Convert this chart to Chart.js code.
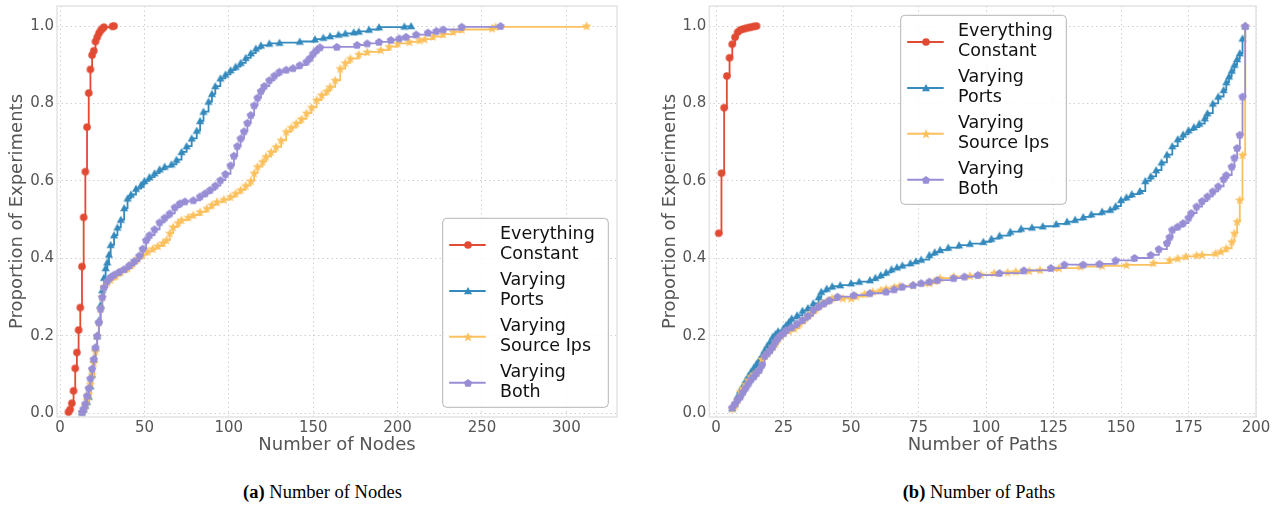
<!DOCTYPE html>
<html><head><meta charset="utf-8">
<script src="https://cdn.jsdelivr.net/npm/chart.js@4.4.1/dist/chart.umd.min.js"></script>
<style>
html,body{margin:0;padding:0;background:#fff;width:1278px;height:506px;overflow:hidden;position:relative;}
canvas{position:absolute;top:0;}
#c1{left:0}
#c2{left:640px}
.cap{position:absolute;top:480px;font-family:"Liberation Serif","Times New Roman",serif;font-size:18.5px;color:#000;white-space:nowrap;transform:translateX(-50%);line-height:24px}
</style></head><body>
<canvas id="c1" width="640" height="460"></canvas>
<canvas id="c2" width="638" height="460"></canvas>
<div class="cap" style="left:322.5px"><b>(a)</b> Number of Nodes</div>
<div class="cap" style="left:979px"><b>(b)</b> Number of Paths</div>
<script>
// ---------------- DATA ----------------
const seriesNames = ['Everything Constant', 'Varying Ports', 'Varying Source Ips', 'Varying Both'];
const legendLines = [['Everything','Constant'],['Varying','Ports'],['Varying','Source Ips'],['Varying','Both']];
const yTicks = [0, 0.2, 0.4, 0.6, 0.8, 1.0];
const yTickLabels = ['0.0','0.2','0.4','0.6','0.8','1.0'];
const nodesTicks = [0, 50, 100, 150, 200, 250, 300];
const nodesTickLabels = ['0','50','100','150','200','250','300'];
const pathsTicks = [0, 25, 50, 75, 100, 125, 150, 175, 200];
const pathsTickLabels = ['0','25','50','75','100','125','150','175','200'];

// (a) Number of Nodes
const nodesConstX = [5,6,7,8,9,10,11,12,13,14,15,16,17,18,19,20,21,22,23,24,25,26,31,32];
const nodesConstY = [0.003,0.01,0.026,0.058,0.116,0.157,0.215,0.273,0.379,0.506,0.624,0.739,0.827,0.888,0.925,0.936,0.96,0.971,0.981,0.988,0.993,0.997,0.999,1.0];

const nodesPortsX = [13,14,15,16,17,18,19,20,21,22,23,24,25,26,27,28,29,30,32,34,36,38,40,42,45,48,50,53,56,59,62,66,69,72,75,78,81,83,85,88,90,92,95,98,101,104,107,110,113,116,119,124,130,142,151,156,160,165,169,174,177,183,189,204,208];
const nodesPortsY = [0.003,0.01,0.02,0.03,0.043,0.07,0.1,0.14,0.17,0.2,0.24,0.28,0.318,0.35,0.375,0.39,0.41,0.435,0.46,0.48,0.5,0.53,0.555,0.565,0.58,0.59,0.6,0.61,0.62,0.63,0.637,0.643,0.655,0.675,0.69,0.71,0.73,0.755,0.779,0.805,0.825,0.845,0.865,0.875,0.886,0.895,0.905,0.918,0.93,0.942,0.95,0.955,0.957,0.96,0.966,0.97,0.974,0.978,0.981,0.984,0.986,0.991,0.997,0.999,1.0];

const nodesSrcX = [13,14,15,16,17,18,19,20,21,22,23,24,25,26,28,30,33,36,40,43,46,49,52,55,58,61,63,65,67,70,72,76,79,83,87,90,93,97,101,104,107,110,113,115,117,120,122,125,128,131,134,137,140,143,146,149,152,155,158,160,163,166,169,172,177,182,190,195,200,207,213,216,221,227,233,238,256,258,312];
const nodesSrcY = [0.003,0.01,0.02,0.035,0.05,0.075,0.1,0.13,0.16,0.2,0.235,0.27,0.3,0.327,0.338,0.345,0.355,0.365,0.375,0.387,0.4,0.41,0.418,0.425,0.432,0.44,0.447,0.465,0.481,0.492,0.499,0.506,0.512,0.52,0.529,0.538,0.546,0.552,0.559,0.568,0.577,0.588,0.6,0.62,0.637,0.65,0.663,0.675,0.688,0.705,0.727,0.738,0.749,0.76,0.775,0.79,0.809,0.822,0.832,0.843,0.86,0.89,0.905,0.916,0.927,0.933,0.938,0.947,0.955,0.959,0.963,0.966,0.973,0.979,0.985,0.991,0.994,0.998,1.0];

const nodesBothX = [13,14,15,16,17,18,19,20,21,22,23,24,25,26,28,30,32,35,38,41,44,47,49,51,53,56,59,62,65,68,71,74,79,83,86,89,92,95,98,101,103,105,107,109,111,113,115,117,119,121,124,127,130,134,138,142,146,148,150,152,154,164,176,182,189,196,201,205,211,218,223,227,238,261];
const nodesBothY = [0.003,0.012,0.025,0.045,0.065,0.09,0.115,0.14,0.17,0.2,0.235,0.27,0.3,0.325,0.342,0.352,0.358,0.365,0.372,0.382,0.393,0.407,0.425,0.447,0.46,0.475,0.493,0.505,0.516,0.532,0.542,0.547,0.55,0.56,0.568,0.577,0.588,0.602,0.618,0.64,0.665,0.69,0.71,0.728,0.75,0.77,0.795,0.815,0.832,0.845,0.86,0.872,0.882,0.887,0.891,0.899,0.908,0.917,0.929,0.938,0.945,0.946,0.951,0.955,0.959,0.964,0.968,0.972,0.978,0.983,0.987,0.991,0.998,1.0];

// (b) Number of Paths
const pathsConstX = [1,2,3,4,5,6,7,8,9,10,11,12,13,14,15];
const pathsConstY = [0.465,0.62,0.789,0.871,0.918,0.953,0.971,0.984,0.99,0.992,0.994,0.996,0.997,0.999,1.0];

const pathsPortsX = [6,7,8,9,10,11,12,13,14,15,16,17,18,19,20,21,22,23,25,26,27,28,30,32,34,36,38,39,41,43,46,50,53,57,59,61,63,65,67,69,72,74,76,79,81,83,86,90,94,99,102,105,109,113,117,121,126,130,133,136,139,143,146,148,150,152,154,157,159,161,163,165,167,169,171,173,175,177,179,181,182,184,186,188,189,190,191,192,193,194,195,196];
const pathsPortsY = [0.013,0.025,0.045,0.06,0.072,0.085,0.097,0.108,0.118,0.128,0.138,0.15,0.163,0.175,0.185,0.198,0.205,0.212,0.22,0.228,0.236,0.245,0.253,0.265,0.272,0.284,0.3,0.314,0.322,0.328,0.331,0.336,0.34,0.344,0.35,0.357,0.364,0.372,0.377,0.382,0.388,0.393,0.397,0.409,0.416,0.422,0.428,0.434,0.438,0.443,0.451,0.459,0.469,0.477,0.48,0.483,0.489,0.495,0.5,0.507,0.514,0.521,0.526,0.535,0.551,0.558,0.566,0.574,0.6,0.612,0.628,0.648,0.668,0.69,0.708,0.72,0.731,0.739,0.748,0.762,0.775,0.8,0.818,0.835,0.855,0.87,0.885,0.9,0.915,0.93,0.968,1.0];

const pathsSrcX = [6,7,8,9,10,11,12,13,14,15,16,17,18,19,20,21,22,23,24,25,27,29,31,33,35,37,39,41,43,47,50,52,55,58,61,63,66,68,73,79,81,83,88,94,98,103,108,111,116,120,127,135,143,152,162,168,171,174,178,180,185,187,189,191,192,193,194,195,196];
const pathsSrcY = [0.012,0.02,0.035,0.056,0.065,0.075,0.086,0.095,0.1,0.105,0.112,0.14,0.148,0.155,0.163,0.172,0.18,0.192,0.2,0.207,0.213,0.219,0.232,0.245,0.258,0.27,0.282,0.29,0.297,0.297,0.297,0.302,0.308,0.314,0.318,0.322,0.326,0.329,0.331,0.336,0.342,0.349,0.353,0.355,0.358,0.362,0.364,0.366,0.368,0.37,0.375,0.379,0.381,0.383,0.388,0.396,0.4,0.405,0.408,0.409,0.413,0.418,0.426,0.443,0.465,0.495,0.551,0.667,1.0];

const pathsBothX = [6,7,8,9,10,11,12,13,14,15,16,17,18,19,20,21,22,23,24,25,26,28,30,32,34,36,38,40,42,45,51,57,63,66,69,73,76,79,82,88,92,97,105,114,124,129,136,142,148,155,161,164,167,168,169,171,173,175,176,178,180,182,184,186,188,189,191,192,193,194,195,196];
const pathsBothY = [0.015,0.025,0.035,0.043,0.055,0.066,0.077,0.088,0.095,0.104,0.112,0.125,0.148,0.155,0.163,0.172,0.185,0.195,0.202,0.207,0.215,0.222,0.232,0.241,0.252,0.267,0.276,0.284,0.292,0.301,0.305,0.31,0.314,0.32,0.327,0.331,0.336,0.34,0.344,0.349,0.353,0.357,0.362,0.369,0.375,0.384,0.384,0.386,0.395,0.401,0.409,0.424,0.44,0.455,0.474,0.482,0.491,0.505,0.517,0.534,0.548,0.56,0.573,0.586,0.605,0.615,0.637,0.66,0.685,0.719,0.818,1.0];

// ---------------- STYLE ----------------
const colors = ['#E24A33', '#348ABD', '#FBC15E', '#988ED5'];
Chart.defaults.font.family = "'DejaVu Sans', sans-serif";

function markerCanvas(kind, color) {
  const s = 12, c = document.createElement('canvas');
  c.width = s; c.height = s;
  const g = c.getContext('2d');
  const cx = s / 2, cy = s / 2;
  g.fillStyle = color;
  g.beginPath();
  if (kind === 'circle') {
    g.arc(cx, cy, 3.8, 0, Math.PI * 2);
  } else if (kind === 'triangle') {
    const r = 4.7;
    for (let i = 0; i < 3; i++) {
      const a = -Math.PI / 2 + i * 2 * Math.PI / 3;
      g.lineTo(cx + r * Math.cos(a), cy + 0.8 + r * Math.sin(a));
    }
  } else if (kind === 'star') {
    for (let i = 0; i < 10; i++) {
      const a = -Math.PI / 2 + i * Math.PI / 5;
      const r = i % 2 ? 2.2 : 5.1;
      g.lineTo(cx + r * Math.cos(a), cy + 0.4 + r * Math.sin(a));
    }
  } else {
    const r = 4.4;
    for (let i = 0; i < 5; i++) {
      const a = -Math.PI / 2 + i * 2 * Math.PI / 5;
      g.lineTo(cx + r * Math.cos(a), cy + 0.3 + r * Math.sin(a));
    }
  }
  g.closePath();
  g.fill();
  return c;
}
const markerKinds = ['circle', 'triangle', 'star', 'pentagon'];
const markers = markerKinds.map((k, i) => markerCanvas(k, colors[i]));
const drawOrder = [3, 2, 1, 0];

function zip(xs, ys) { return xs.map((x, i) => ({x: x, y: ys[i]})); }

function makeDatasets(list) {
  return list.map((pair, i) => ({
    label: seriesNames[i],
    data: zip(pair[0], pair[1]),
    borderColor: colors[i],
    backgroundColor: colors[i],
    borderWidth: 1.8,
    stepped: true,
    fill: false,
    pointStyle: markers[i],
    pointRadius: 4,
    pointHoverRadius: 4,
    order: drawOrder[i]
  }));
}

const framePlugin = {
  id: 'frame',
  beforeDatasetsDraw(chart) {
    const a = chart.chartArea, ctx = chart.ctx;
    ctx.save();
    ctx.strokeStyle = '#e3e3e3';
    ctx.lineWidth = 1.5;
    ctx.strokeRect(a.left, a.top, a.right - a.left, a.bottom - a.top);
    ctx.restore();
  }
};

const legendPlugin = {
  id: 'cdfLegend',
  afterDraw(chart, args, opts) {
    const ctx = chart.ctx, b = opts.box;
    ctx.save();
    ctx.beginPath();
    ctx.roundRect(b.x, b.y, b.w, b.h, 4);
    ctx.fillStyle = 'rgba(255,255,255,0.85)';
    ctx.fill();
    ctx.strokeStyle = '#b5b5b5';
    ctx.lineWidth = 1;
    ctx.stroke();
    ctx.font = "17.5px 'DejaVu Sans'";
    ctx.textBaseline = 'alphabetic';
    ctx.textAlign = 'left';
    legendLines.forEach((lines, i) => {
      const my = b.y + 26.7 + i * 45.9;
      ctx.strokeStyle = colors[i];
      ctx.lineWidth = 2;
      ctx.beginPath();
      ctx.moveTo(b.x + 6.5, my);
      ctx.lineTo(b.x + 43, my);
      ctx.stroke();
      const m = markers[i];
      ctx.drawImage(m, Math.round(b.x + 24.8 - m.width / 2), Math.round(my - m.height / 2));
      ctx.fillStyle = '#111';
      ctx.fillText(lines[0], b.x + 57.3, my - 5.6);
      ctx.fillText(lines[1], b.x + 57.3, my + 14.4);
    });
    ctx.restore();
  }
};

function axisX(min, max, ticks, labels, title) {
  return {
    type: 'linear', min: min, max: max,
    afterBuildTicks: s => { s.ticks = ticks.map(v => ({value: v})); },
    afterFit: s => { s.height = 43; s.paddingLeft = 0; s.paddingRight = 0; },
    ticks: {
      color: '#555', font: {size: 15}, padding: 2, autoSkip: false, maxRotation: 0,
      callback: (v, i) => labels[i]
    },
    grid: {color: '#cfcfcf', lineWidth: 1, drawTicks: false},
    border: {display: false, dash: [1.5, 3]},
    title: {display: true, text: title, color: '#555', font: {size: 18}, padding: {top: 0, bottom: 4}}
  };
}
function axisY() {
  return {
    type: 'linear', min: -0.0096, max: 1.0517,
    afterBuildTicks: s => { s.ticks = yTicks.map(v => ({value: v})); },
    afterFit: s => { s.width = 57; s.paddingTop = 0; s.paddingBottom = 0; },
    ticks: {
      color: '#555', font: {size: 15}, padding: 3, autoSkip: false,
      callback: (v, i) => yTickLabels[i]
    },
    grid: {color: '#cfcfcf', lineWidth: 1, drawTicks: false},
    border: {display: false, dash: [1.5, 3]},
    title: {display: true, text: 'Proportion of Experiments', color: '#555', font: {size: 18}, padding: {top: 7, bottom: 0}}
  };
}

function makeChart(id, datasets, xMin, xMax, ticks, labels, title, padLeft, padRight, legendBox) {
  return new Chart(document.getElementById(id), {
    type: 'line',
    data: {datasets: datasets},
    options: {
      responsive: false, animation: false, devicePixelRatio: 1,
      layout: {padding: {left: padLeft, right: padRight, top: 6, bottom: 0}},
      plugins: {legend: {display: false}, tooltip: {enabled: false}, cdfLegend: {box: legendBox}},
      scales: {x: axisX(xMin, xMax, ticks, labels, title), y: axisY()}
    },
    plugins: [framePlugin, legendPlugin]
  });
}

makeChart('c1', makeDatasets([[nodesConstX, nodesConstY], [nodesPortsX, nodesPortsY], [nodesSrcX, nodesSrcY], [nodesBothX, nodesBothY]]),
  -1.8, 330, nodesTicks, nodesTickLabels, 'Number of Nodes', 0, 23,
  {x: 442.7, y: 218.3, w: 165.6, h: 189});
makeChart('c2', makeDatasets([[pathsConstX, pathsConstY], [pathsPortsX, pathsPortsY], [pathsSrcX, pathsSrcY], [pathsBothX, pathsBothY]]),
  -2.5, 200, pathsTicks, pathsTickLabels, 'Number of Paths', 12.3, 22,
  {x: 260.7, y: 15.3, w: 165.6, h: 189});
</script>
</body></html>
